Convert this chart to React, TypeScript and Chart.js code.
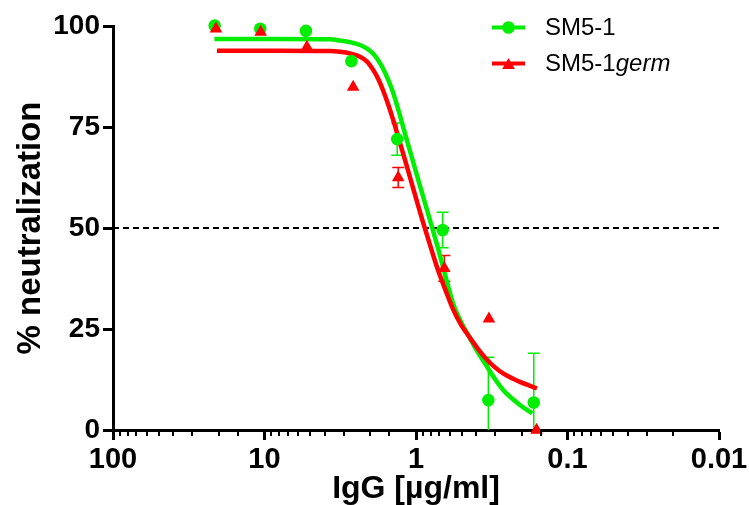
import React, { useEffect, useRef } from 'react';
import { Chart, registerables } from 'chart.js';

Chart.register(...registerables);

const FONT = "'Liberation Sans', Arial, Helvetica, sans-serif";
const GREEN = '#00ee00';
const RED = '#ff0000';

// Measured points (IgG concentration in µg/ml, % neutralization)
const sm51Conc = [21.33, 10.67, 5.33, 2.67, 1.33, 0.667, 0.333, 0.167];
const sm51Values = [100.1, 99.3, 98.8, 91.3, 72.0, 49.5, 7.4, 6.8];
const sm51Errors = [0, 0, 0, 0, 4.0, 4.4, 10.6, 12.2];

const germConc = [20.9, 10.6, 5.25, 2.6, 1.31, 0.65, 0.33, 0.16];
const germValues = [99.3, 98.5, 94.8, 84.9, 62.5, 40.0, 27.5, 0];
const germErrors = [0, 0, 0, 0, 2.5, 3.2, 0, 0];

// Fitted curves
const sm51FitConc = [21.4, 7.9, 3.7, 3.175, 2.726, 2.341, 2.105, 1.922, 1.781, 1.651, 1.53, 1.418, 1.275, 1.164, 0.941, 0.784, 0.716, 0.634, 0.57, 0.505, 0.44, 0.39, 0.34, 0.301, 0.266, 0.232, 0.206, 0.171];
const sm51FitValues = [96.8, 96.8, 96.7, 96.4, 96.0, 95.3, 94.4, 93.2, 91.6, 89.5, 86.8, 83.6, 77.8, 72.5, 60.4, 50.2, 45.0, 37.6, 31.4, 26.8, 22.7, 19.2, 15.7, 12.6, 9.9, 7.8, 6.2, 4.1];

const germFitConc = [20.6, 7.9, 3.7, 3.175, 2.726, 2.341, 2.105, 1.922, 1.781, 1.651, 1.53, 1.418, 1.275, 1.164, 0.941, 0.784, 0.716, 0.634, 0.57, 0.505, 0.44, 0.39, 0.34, 0.301, 0.266, 0.232, 0.206, 0.159];
const germFitValues = [93.9, 93.9, 93.8, 93.6, 93.2, 92.4, 91.2, 89.2, 87.0, 84.1, 80.7, 76.9, 71.0, 66.0, 53.9, 44.2, 39.6, 34.3, 29.9, 26.1, 22.8, 20.1, 17.4, 15.5, 14.0, 12.8, 11.9, 10.3];

const xTickLabels = ['100', '10', '1', '0.1', '0.01'];
const yTickStep = 25;
const cutoffLevel = 50;
const seriesNames = ['SM5-1', 'SM5-1'];
const seriesItalicSuffix = ['', 'germ'];

const toPoints = (xs: number[], ys: number[]) => xs.map((x, i) => ({ x, y: ys[i] }));
const isPow10 = (v: number) => Math.abs(Math.log10(v) - Math.round(Math.log10(v))) < 1e-6;

const errorBarPlugin = {
  id: 'errorBars',
  beforeDatasetsDraw(chart: any) {
    const { ctx, chartArea, scales } = chart;
    const xs = scales.x, ys = scales.y;
    ctx.save();
    ctx.beginPath();
    ctx.rect(chartArea.left, chartArea.top - 20, chartArea.right - chartArea.left, chartArea.bottom - chartArea.top + 20);
    ctx.clip();
    chart.data.datasets.forEach((ds: any) => {
      if (!ds.errors) return;
      ctx.strokeStyle = ds.backgroundColor;
      ctx.lineWidth = 1.5;
      ds.data.forEach((p: any, i: number) => {
        const e = ds.errors[i];
        if (!e) return;
        const px = xs.getPixelForValue(p.x);
        const t = ys.getPixelForValue(p.y + e);
        const b = ys.getPixelForValue(p.y - e);
        ctx.beginPath();
        ctx.moveTo(px, t); ctx.lineTo(px, b);
        ctx.moveTo(px - 6, t); ctx.lineTo(px + 6, t);
        ctx.moveTo(px - 6, b); ctx.lineTo(px + 6, b);
        ctx.stroke();
      });
    });
    ctx.restore();
  },
};

const minorTickPlugin = {
  id: 'minorTicks',
  afterDraw(chart: any) {
    const { ctx } = chart;
    const xs = chart.scales.x;
    ctx.save();
    ctx.strokeStyle = '#000';
    ctx.lineWidth = 2;
    xs.ticks.forEach((t: any) => {
      if (isPow10(t.value)) return;
      const px = Math.round(xs.getPixelForValue(t.value));
      ctx.beginPath();
      ctx.moveTo(px, xs.top);
      ctx.lineTo(px, xs.top + 6);
      ctx.stroke();
    });
    ctx.restore();
  },
};

const legendPlugin = {
  id: 'customLegend',
  afterDraw(chart: any) {
    const { ctx } = chart;
    const rows = [
      { y: 27.5, color: GREEN, style: 'circle' },
      { y: 63.5, color: RED, style: 'triangle' },
    ];
    ctx.save();
    rows.forEach((r, i) => {
      ctx.strokeStyle = r.color;
      ctx.fillStyle = r.color;
      ctx.lineWidth = 4;
      ctx.beginPath();
      ctx.moveTo(492, r.y);
      ctx.lineTo(525, r.y);
      ctx.stroke();
      ctx.beginPath();
      if (r.style === 'circle') {
        ctx.arc(508.5, r.y, 6.3, 0, Math.PI * 2);
      } else {
        const rad = 7.3;
        ctx.moveTo(508.5, r.y - rad * 0.75);
        ctx.lineTo(508.5 + rad * 0.866, r.y + rad * 0.75);
        ctx.lineTo(508.5 - rad * 0.866, r.y + rad * 0.75);
        ctx.closePath();
      }
      ctx.fill();
      ctx.fillStyle = '#000';
      ctx.textBaseline = 'middle';
      ctx.textAlign = 'left';
      ctx.font = `24px ${FONT}`;
      const ty = r.y + 1;
      ctx.fillText(seriesNames[i], 545, ty);
      if (seriesItalicSuffix[i]) {
        const w = ctx.measureText(seriesNames[i]).width;
        ctx.font = `italic 24px ${FONT}`;
        ctx.fillText(seriesItalicSuffix[i], 545 + w, ty);
      }
    });
    ctx.restore();
  },
};

export default function App() {
  const canvasRef = useRef<HTMLCanvasElement | null>(null);

  useEffect(() => {
    if (!canvasRef.current) return;
    const chart = new Chart(canvasRef.current, {
      type: 'scatter',
      data: {
        datasets: [
          {
            label: 'SM5-1',
            data: toPoints(sm51Conc, sm51Values),
            errors: sm51Errors,
            showLine: false,
            pointStyle: 'circle',
            pointRadius: 6.3,
            pointBorderWidth: 0,
            backgroundColor: GREEN,
            borderColor: GREEN,
            clip: false,
            order: 1,
          } as any,
          {
            label: 'SM5-1germ',
            data: toPoints(germConc, germValues),
            errors: germErrors,
            showLine: false,
            pointStyle: 'triangle',
            pointRadius: 7.3,
            pointBorderWidth: 0,
            backgroundColor: RED,
            borderColor: RED,
            clip: false,
            order: 0,
          } as any,
          {
            label: 'SM5-1 fit',
            data: toPoints(sm51FitConc, sm51FitValues),
            showLine: true,
            pointRadius: 0,
            borderColor: GREEN,
            borderWidth: 4.5,
            cubicInterpolationMode: 'monotone',
            clip: false,
            order: 3,
          } as any,
          {
            label: 'SM5-1germ fit',
            data: toPoints(germFitConc, germFitValues),
            showLine: true,
            pointRadius: 0,
            borderColor: RED,
            borderWidth: 4.5,
            cubicInterpolationMode: 'monotone',
            clip: false,
            order: 2,
          } as any,
          {
            label: '50%',
            data: [{ x: 100, y: cutoffLevel }, { x: 0.01, y: cutoffLevel }],
            showLine: true,
            pointRadius: 0,
            borderColor: '#000',
            borderWidth: 2.2,
            borderDash: [6, 4],
            order: 4,
          } as any,
        ],
      },
      options: {
        animation: false,
        responsive: true,
        maintainAspectRatio: false,
        layout: { padding: { left: 0, top: 26, right: 30, bottom: 0 } },
        plugins: { legend: { display: false }, tooltip: { enabled: false } },
        scales: {
          x: {
            type: 'logarithmic',
            reverse: true,
            min: 0.01,
            max: 100,
            position: 'bottom',
            border: { color: '#000', width: 3 },
            grid: {
              drawOnChartArea: false,
              drawTicks: true,
              tickLength: 10,
              tickWidth: 3,
              tickColor: (c: any) => (c.tick && isPow10(c.tick.value) ? '#000' : 'rgba(0,0,0,0)'),
            },
            ticks: {
              autoSkip: false,
              maxRotation: 0,
              padding: 3,
              color: '#000',
              font: { family: FONT, size: 29, weight: 'bold' },
              callback: (v: any) => {
                const lbl = xTickLabels.find((l) => Math.abs(Math.log10(Number(l)) - Math.log10(Number(v))) < 1e-6);
                return lbl ?? '';
              },
            },
            title: {
              display: true,
              text: 'IgG [µg/ml]',
              color: '#000',
              font: { family: FONT, size: 32, weight: 'bold', lineHeight: 1 },
              padding: { top: 0, bottom: 0 },
            },
            afterFit: (s: any) => {
              s.height = 75;
              s.paddingLeft = 0;
              s.paddingRight = 0;
            },
          },
          y: {
            min: 0,
            max: 100,
            border: { color: '#000', width: 3 },
            grid: { drawOnChartArea: false, tickLength: 10, tickWidth: 3, tickColor: '#000' },
            ticks: {
              stepSize: yTickStep,
              padding: 3,
              color: '#000',
              font: { family: FONT, size: 28, weight: 'bold' },
            },
            title: {
              display: true,
              text: '% neutralization',
              color: '#000',
              font: { family: FONT, size: 33, weight: 'bold', lineHeight: 1 },
              padding: { top: 14, bottom: 0 },
            },
            afterFit: (s: any) => {
              s.width = 113;
              s.paddingTop = 0;
              s.paddingBottom = 0;
            },
          },
        },
      } as any,
      plugins: [errorBarPlugin, minorTickPlugin, legendPlugin],
    });
    return () => chart.destroy();
  }, []);

  return (
    <div style={{ position: 'absolute', left: 0, top: 0, width: 749, height: 505, background: '#fff' }}>
      <canvas ref={canvasRef} />
    </div>
  );
}
